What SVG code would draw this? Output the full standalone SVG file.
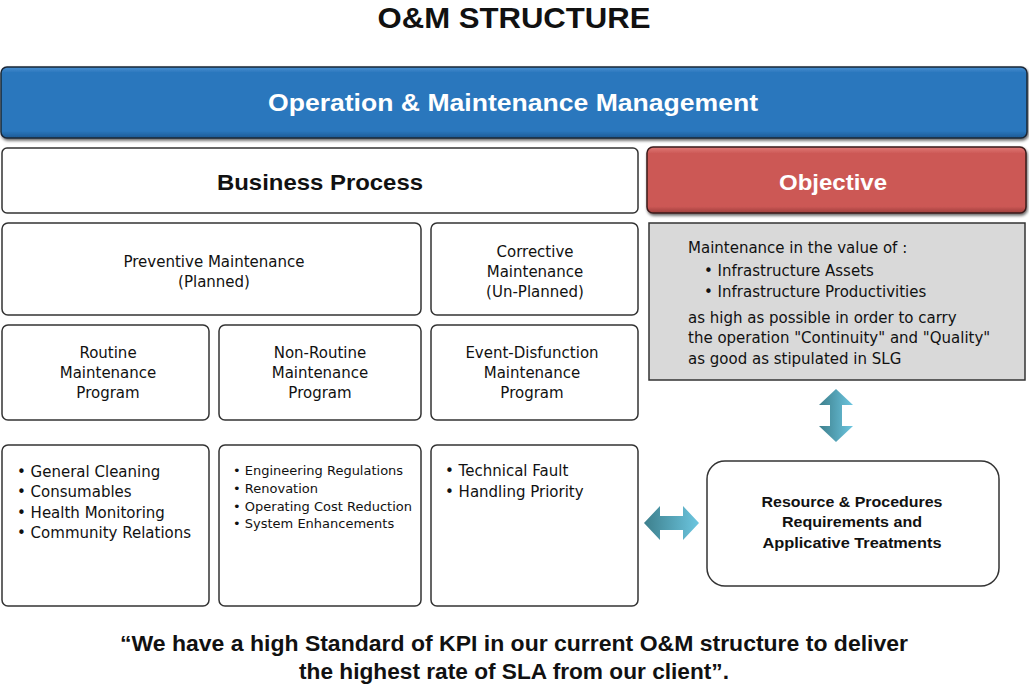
<svg xmlns="http://www.w3.org/2000/svg" width="1029" height="700" viewBox="0 0 1029 700">
<defs>
<linearGradient id="blueG" x1="0" y1="0" x2="0" y2="1">
<stop offset="0" stop-color="#4a8fd0"/><stop offset="0.08" stop-color="#2a77bd"/><stop offset="0.9" stop-color="#2a77bd"/><stop offset="1" stop-color="#1d5a94"/>
</linearGradient>
<linearGradient id="redG" x1="0" y1="0" x2="0" y2="1">
<stop offset="0" stop-color="#e07a77"/><stop offset="0.1" stop-color="#cc5855"/><stop offset="0.9" stop-color="#cc5855"/><stop offset="1" stop-color="#9e3e3c"/>
</linearGradient>
<linearGradient id="arrH" x1="0" y1="0" x2="1" y2="0">
<stop offset="0" stop-color="#3d7f8c"/><stop offset="1" stop-color="#6cc6e0"/>
</linearGradient>
<linearGradient id="arrV" x1="0" y1="0" x2="1" y2="0">
<stop offset="0" stop-color="#3d7f8c"/><stop offset="1" stop-color="#6cc6e0"/>
</linearGradient>
<filter id="sh" x="-5%" y="-20%" width="110%" height="150%">
<feGaussianBlur in="SourceAlpha" stdDeviation="1.5"/><feOffset dx="1" dy="2"/>
<feComponentTransfer><feFuncA type="linear" slope="0.6"/></feComponentTransfer>
<feMerge><feMergeNode/><feMergeNode in="SourceGraphic"/></feMerge>
</filter>
</defs>
<style>
.box{fill:#fff;stroke:#333;stroke-width:1.5}
.t{font-family:"DejaVu Sans",sans-serif;font-size:15px;fill:#111;text-anchor:middle}
.tl{font-family:"DejaVu Sans",sans-serif;font-size:15px;fill:#111}
.s{font-size:13px}
.b{font-family:"Liberation Sans",Arial,sans-serif;font-weight:bold}
.w{fill:#fff}
</style>
<text x="514" y="28" class="t b" style="font-size:30px" textLength="273" lengthAdjust="spacingAndGlyphs">O&amp;M STRUCTURE</text>

<g id="om-management">
<rect x="1" y="67" width="1026" height="71" rx="6" fill="url(#blueG)" stroke="#1a2836" stroke-width="1.5" filter="url(#sh)"/>
<text x="513" y="111" class="t b w" style="font-size:24px" textLength="490" lengthAdjust="spacingAndGlyphs">Operation &amp; Maintenance Management</text>
</g>
<g id="business-process">
<rect x="2" y="148" width="636" height="65" rx="5" class="box"/>
<text x="320" y="190" class="t b" style="font-size:22px" textLength="206" lengthAdjust="spacingAndGlyphs">Business Process</text>
</g>
<g id="objective">
<rect x="647" y="147" width="379" height="66" rx="6" fill="url(#redG)" stroke="#3a1a1a" stroke-width="1.5" filter="url(#sh)"/>
<text x="833" y="190" class="t b w" style="font-size:22px" textLength="108" lengthAdjust="spacingAndGlyphs">Objective</text>
</g>
<g id="preventive">
<rect x="2" y="223" width="419" height="92" rx="6" class="box"/>
<text x="214" y="267" class="t">Preventive Maintenance</text>
<text x="214" y="287" class="t">(Planned)</text>
</g>
<g id="corrective">
<rect x="431" y="223" width="207" height="92" rx="6" class="box"/>
<text x="535" y="257" class="t">Corrective</text>
<text x="535" y="277" class="t">Maintenance</text>
<text x="535" y="297" class="t">(Un-Planned)</text>
</g>
<g id="objective-detail">
<rect x="649" y="223" width="376" height="157" fill="#d9d9d9" stroke="#333" stroke-width="1.5"/>
<text x="688" y="253" class="tl">Maintenance in the value of :</text>
<text x="704" y="276" class="tl">• Infrastructure Assets</text>
<text x="704" y="297" class="tl">• Infrastructure Productivities</text>
<text x="688" y="323" class="tl">as high as possible in order to carry</text>
<text x="688" y="343" class="tl">the operation "Continuity" and "Quality"</text>
<text x="688" y="364" class="tl">as good as stipulated in SLG</text>
</g>
<g id="routine">
<rect x="2" y="325" width="207" height="95" rx="6" class="box"/>
<text x="108" y="358" class="t">Routine</text>
<text x="108" y="378" class="t">Maintenance</text>
<text x="108" y="398" class="t">Program</text>
</g>
<g id="non-routine">
<rect x="219" y="325" width="202" height="95" rx="6" class="box"/>
<text x="320" y="358" class="t">Non-Routine</text>
<text x="320" y="378" class="t">Maintenance</text>
<text x="320" y="398" class="t">Program</text>
</g>
<g id="event-disfunction">
<rect x="431" y="325" width="207" height="95" rx="6" class="box"/>
<text x="532" y="358" class="t">Event-Disfunction</text>
<text x="532" y="378" class="t">Maintenance</text>
<text x="532" y="398" class="t">Program</text>
</g>
<g id="routine-items">
<rect x="2" y="445" width="207" height="161" rx="6" class="box"/>
<text x="17" y="477" class="tl">• General Cleaning</text>
<text x="17" y="497" class="tl">• Consumables</text>
<text x="17" y="518" class="tl">• Health Monitoring</text>
<text x="17" y="538" class="tl">• Community Relations</text>
</g>
<g id="non-routine-items">
<rect x="219" y="445" width="202" height="161" rx="6" class="box"/>
<text x="233" y="475" class="tl s">• Engineering Regulations</text>
<text x="233" y="493" class="tl s">• Renovation</text>
<text x="233" y="511" class="tl s">• Operating Cost Reduction</text>
<text x="233" y="528" class="tl s">• System Enhancements</text>
</g>
<g id="event-items">
<rect x="431" y="445" width="207" height="161" rx="6" class="box"/>
<text x="445" y="476" class="tl">• Technical Fault</text>
<text x="445" y="497" class="tl">• Handling Priority</text>
</g>
<g id="resource">
<rect x="707" y="461" width="292" height="125" rx="18" class="box"/>
<text x="852" y="507" class="t b" textLength="181" lengthAdjust="spacingAndGlyphs">Resource &amp; Procedures</text>
<text x="852" y="527" class="t b" textLength="140" lengthAdjust="spacingAndGlyphs">Requirements and</text>
<text x="852" y="548" class="t b" textLength="179" lengthAdjust="spacingAndGlyphs">Applicative Treatments</text>
</g>
<g id="connectors">
<polygon points="836,389 853,405 842,405 842,426 853,426 836,442 819,426 830,426 830,405 819,405" fill="url(#arrV)"/>
<polygon points="644,523 660,506 660,516 683,516 683,506 699,523 683,540 683,530 660,530 660,540" fill="url(#arrH)"/>
</g>
<text x="514" y="651" class="t b" style="font-size:22px" textLength="788" lengthAdjust="spacingAndGlyphs">“We have a high Standard of KPI  in our current O&amp;M structure to deliver</text>
<text x="514" y="679" class="t b" style="font-size:22px" textLength="430" lengthAdjust="spacingAndGlyphs">the highest rate of SLA from our client”.</text>
</svg>
